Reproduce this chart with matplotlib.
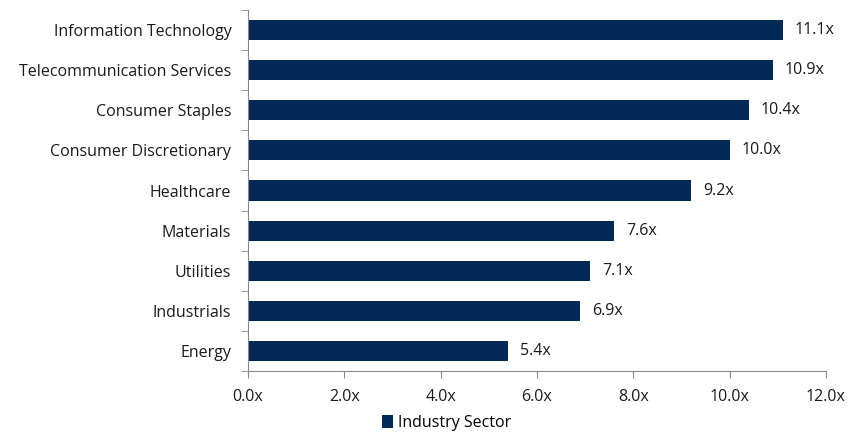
import matplotlib
matplotlib.use('Agg')
import matplotlib.pyplot as plt
import matplotlib.ticker as ticker
import numpy as np

# sector multiples
sectors = ["Information Technology", "Telecommunication Services", "Consumer Staples",
           "Consumer Discretionary", "Healthcare", "Materials", "Utilities",
           "Industrials", "Energy"]
multiples = [11.1, 10.9, 10.4, 10.0, 9.2, 7.6, 7.1, 6.9, 5.4]
xticks = [0, 2, 4, 6, 8, 10, 12]

navy = "#022856"
plt.rcParams['font.family'] = ['Open Sans', 'DejaVu Sans']
fs = 11.5

fig = plt.figure(figsize=(8.6, 4.33), dpi=100)
ax = fig.add_axes([0.2884, 0.143, 0.672, 0.834])

ypos = np.arange(len(sectors))[::-1]
ax.barh(ypos, multiples, height=0.5, color=navy, label="Industry Sector")
for y, v in zip(ypos, multiples):
    ax.text(v + 0.25, y, f"{v:.1f}x", va="center", ha="left", fontsize=fs, color="#1a1a1a")

ax.set_xlim(0, 12)
ax.set_ylim(-0.5, len(sectors) - 0.5)
ax.set_xticks(xticks)
ax.xaxis.set_major_formatter(ticker.FuncFormatter(lambda v, p: f"{v:.1f}x"))
ax.set_yticks(ypos)
ax.set_yticklabels(sectors)
ax.set_yticks(np.arange(-0.5, len(sectors)), minor=True)
ax.tick_params(axis="y", which="major", length=0, pad=12, labelsize=fs, labelcolor="#1a1a1a")
ax.tick_params(axis="y", which="minor", length=5, color="#888888")
ax.tick_params(axis="x", length=5, color="#888888", pad=8, labelsize=fs, labelcolor="#1a1a1a")

for s in ["top", "right"]:
    ax.spines[s].set_visible(False)
for s in ["left", "bottom"]:
    ax.spines[s].set_color("#888888")
    ax.spines[s].set_linewidth(0.8)

fig.legend(*ax.get_legend_handles_labels(), loc="center", bbox_to_anchor=(0.519, 0.024),
           frameon=False, fontsize=fs, handlelength=0.7, handleheight=0.9,
           handletextpad=0.3, borderpad=0, borderaxespad=0)

fig.savefig("out.png", dpi=100)
